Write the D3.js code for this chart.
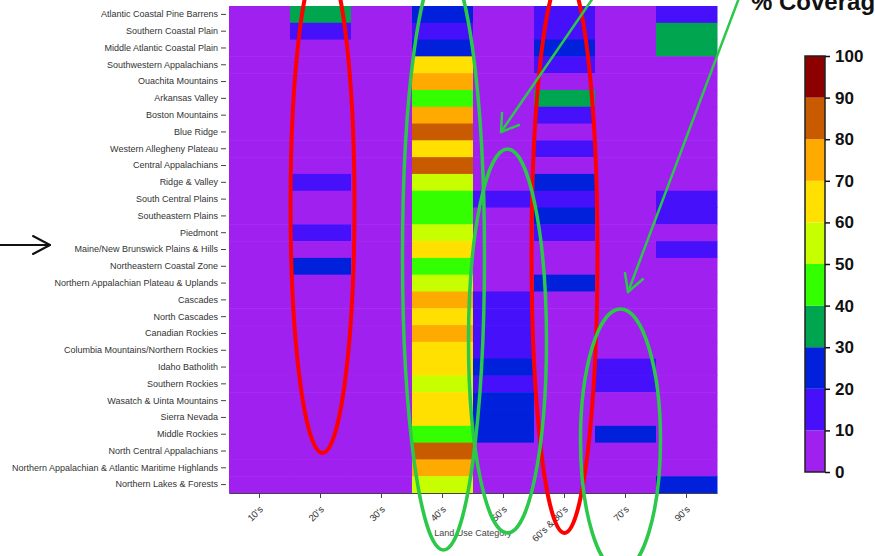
<!DOCTYPE html>
<html>
<head>
<meta charset="utf-8">
<script src="https://cdn.jsdelivr.net/npm/d3@7"></script>
<style>
  html, body { margin: 0; padding: 0; background: #fff; }
  svg { display: block; font-family: "Liberation Sans", Arial, Helvetica, sans-serif; }
</style>
</head>
<body>
<svg id="chart" width="875" height="556"></svg>
<script>
// Ecoregions (rows, top to bottom)
const ecoregions = [
  "Atlantic Coastal Pine Barrens",
  "Southern Coastal Plain",
  "Middle Atlantic Coastal Plain",
  "Southwestern Appalachians",
  "Ouachita Mountains",
  "Arkansas Valley",
  "Boston Mountains",
  "Blue Ridge",
  "Western Allegheny Plateau",
  "Central Appalachians",
  "Ridge & Valley",
  "South Central Plains",
  "Southeastern Plains",
  "Piedmont",
  "Maine/New Brunswick Plains & Hills",
  "Northeastern Coastal Zone",
  "Northern Appalachian Plateau & Uplands",
  "Cascades",
  "North Cascades",
  "Canadian Rockies",
  "Columbia Mountains/Northern Rockies",
  "Idaho Batholith",
  "Southern Rockies",
  "Wasatch & Uinta Mountains",
  "Sierra Nevada",
  "Middle Rockies",
  "North Central Appalachians",
  "Northern Appalachian & Atlantic Maritime Highlands",
  "Northern Lakes & Forests"
];

// Land use categories (columns)
const landUse = ["10's", "20's", "30's", "40's", "50's", "60's & 80's", "70's", "90's"];

// % coverage of each land use category, one value per ecoregion (same order as above)
const cov10s = [5,5,5,5,5,5,5,5,5,5,5,5,5,5,5,5,5,5,5,5,5,5,5,5,5,5,5,5,5];
const cov20s = [35,15,5,5,5,5,5,5,5,5,15,5,5,15,5,25,5,5,5,5,5,5,5,5,5,5,5,5,5];
const cov30s = [5,5,5,5,5,5,5,5,5,5,5,5,5,5,5,5,5,5,5,5,5,5,5,5,5,5,5,5,5];
const cov40s = [25,15,25,65,75,45,75,85,65,85,55,45,45,55,65,45,55,75,65,75,65,65,55,65,65,45,85,75,55];
const cov50s = [5,5,5,5,5,5,5,5,5,5,5,15,5,5,5,5,5,15,15,15,15,25,15,25,25,25,5,5,5];
const cov60s80s = [15,15,25,15,5,35,15,5,15,5,25,15,25,15,5,5,25,5,5,5,5,5,5,5,5,5,5,5,5];
const cov70s = [5,5,5,5,5,5,5,5,5,5,5,5,5,5,5,5,5,5,5,5,5,15,15,5,5,25,5,5,5];
const cov90s = [15,35,35,5,5,5,5,5,5,5,5,15,15,5,15,5,5,5,5,5,5,5,5,5,5,5,5,5,25];

// Colour bins of the coverage scale
const binEdges = [10, 20, 30, 40, 50, 60, 70, 80, 90];
const binColors = ["#A020F0", "#4610FA", "#0020DC", "#00A550", "#33FF00",
                   "#C8FF00", "#FFE000", "#FFAA00", "#C85A00", "#8C0000"];
const legendTicks = [0, 10, 20, 30, 40, 50, 60, 70, 80, 90, 100];

const seriesByCategory = [cov10s, cov20s, cov30s, cov40s, cov50s, cov60s80s, cov70s, cov90s];
const cells = [];
landUse.forEach((cat, j) => {
  seriesByCategory[j].forEach((v, i) => cells.push({ cat, region: ecoregions[i], value: v }));
});

const svg = d3.select("#chart");
const plot = { left: 229, right: 717, top: 6, bottom: 493 };

const x = d3.scaleBand().domain(landUse).range([plot.left, plot.right]).padding(0);
const y = d3.scaleBand().domain(ecoregions).range([plot.top, plot.bottom]).padding(0);
const color = d3.scaleThreshold().domain(binEdges).range(binColors);

// Heatmap cells
svg.append("g")
  .selectAll("rect")
  .data(cells)
  .join("rect")
  .attr("x", d => x(d.cat))
  .attr("y", d => y(d.region))
  .attr("width", x.bandwidth() + 0.5)
  .attr("height", y.bandwidth() + 0.5)
  .attr("fill", d => color(d.value));

// Y axis (ecoregion names)
const yAxis = svg.append("g")
  .attr("transform", `translate(${plot.left - 3},0)`)
  .call(d3.axisLeft(y).tickSize(5).tickPadding(3));
yAxis.select(".domain").remove();
yAxis.selectAll(".tick line").attr("stroke", "#444");
yAxis.selectAll(".tick text")
  .attr("fill", "#333")
  .style("font-size", "9px")
  .style("font-family", "'Liberation Sans', Arial, sans-serif");

// X axis (land use categories)
const xAxis = svg.append("g")
  .attr("transform", `translate(0,${plot.bottom})`)
  .call(d3.axisBottom(x).tickSize(5).tickSizeOuter(0));
xAxis.select(".domain").attr("stroke", "#444");
xAxis.selectAll(".tick line").attr("stroke", "#444");
xAxis.selectAll(".tick text")
  .attr("fill", "#333")
  .style("font-size", "9.5px")
  .style("font-family", "'Liberation Sans', Arial, sans-serif")
  .attr("text-anchor", "end")
  .attr("dy", null)
  .attr("y", null)
  .attr("transform", "translate(4,17) rotate(-45)");

svg.append("text")
  .attr("x", (plot.left + plot.right) / 2)
  .attr("y", 536)
  .attr("text-anchor", "middle")
  .attr("fill", "#444")
  .style("font-size", "9px")
  .text("Land Use Category");

// Highlight annotations around columns of interest
const bandMid = c => x(c) + x.bandwidth() / 2;
const rings = [
  { cat: "20's",        dx: 2,  rx: 32, cy: 205, ry: 248, stroke: "#FF0000", w: 4 },
  { cat: "60's & 80's", dx: 0,  rx: 33, cy: 253, ry: 280, stroke: "#FF0000", w: 4 },
  { cat: "40's",        dx: 1,  rx: 41, cy: 256, ry: 294, stroke: "#2BC84A", w: 3.5 },
  { cat: "50's",        dx: 4,  rx: 39, cy: 341, ry: 192, stroke: "#2BC84A", w: 3.5 },
  { cat: "70's",        dx: -5, rx: 40, cy: 440, ry: 131, stroke: "#2BC84A", w: 3.5 }
];
svg.append("g")
  .selectAll("ellipse")
  .data(rings)
  .join("ellipse")
  .attr("cx", d => bandMid(d.cat) + d.dx)
  .attr("cy", d => d.cy)
  .attr("rx", d => d.rx)
  .attr("ry", d => d.ry)
  .attr("fill", "none")
  .attr("stroke", d => d.stroke)
  .attr("stroke-width", d => d.w);

// Pointer arrows
const arrows = [
  { from: [593, -2], to: [501, 132], arms: [[502, 113], [519, 125]], stroke: "#2BC84A", w: 2.5 },
  { from: [739, -2], to: [628, 292], arms: [[625, 273], [643, 279]], stroke: "#2BC84A", w: 2.5 },
  { from: [0, 245],  to: [50, 245],  arms: [[33, 236], [33, 254]],   stroke: "#111",    w: 2 }
];
const ag = svg.append("g").attr("fill", "none").attr("stroke-linecap", "round").attr("stroke-linejoin", "round");
arrows.forEach(a => {
  ag.append("path")
    .attr("d", d3.line()([a.from, a.to]))
    .attr("stroke", a.stroke).attr("stroke-width", a.w);
  ag.append("path")
    .attr("d", d3.line()([a.arms[0], a.to, a.arms[1]]))
    .attr("stroke", a.stroke).attr("stroke-width", a.w);
});

// Colour bar legend
const legend = { x: 805, width: 20, top: 56, bottom: 472 };
const ly = d3.scaleLinear().domain([0, 100]).range([legend.bottom, legend.top]);
const bins = binColors.map((c, i) => ({ lo: i * 10, hi: i * 10 + 10, color: c }));
const lg = svg.append("g");
lg.selectAll("rect.bin")
  .data(bins)
  .join("rect")
  .attr("class", "bin")
  .attr("x", legend.x)
  .attr("y", d => ly(d.hi))
  .attr("width", legend.width)
  .attr("height", d => ly(d.lo) - ly(d.hi))
  .attr("fill", d => d.color);
lg.append("rect")
  .attr("x", legend.x)
  .attr("y", legend.top)
  .attr("width", legend.width)
  .attr("height", legend.bottom - legend.top)
  .attr("fill", "none")
  .attr("stroke", "#222")
  .attr("stroke-width", 1.5);
const lAxis = lg.append("g")
  .attr("transform", `translate(${legend.x + legend.width},0)`)
  .call(d3.axisRight(ly).tickValues(legendTicks).tickSize(5).tickPadding(5));
lAxis.select(".domain").remove();
lAxis.selectAll(".tick line").attr("stroke", "#111").attr("stroke-width", 1.5);
lAxis.selectAll(".tick text")
  .attr("fill", "#111")
  .style("font-size", "17px")
  .style("font-weight", "bold")
  .style("font-family", "'Liberation Sans', Arial, sans-serif");

// Colour bar title (runs off the top edge of the page)
svg.append("text")
  .attr("x", 751)
  .attr("y", 10)
  .attr("fill", "#111")
  .style("font-size", "24px")
  .style("font-weight", "bold")
  .text("% Coverage");
</script>
</body>
</html>
